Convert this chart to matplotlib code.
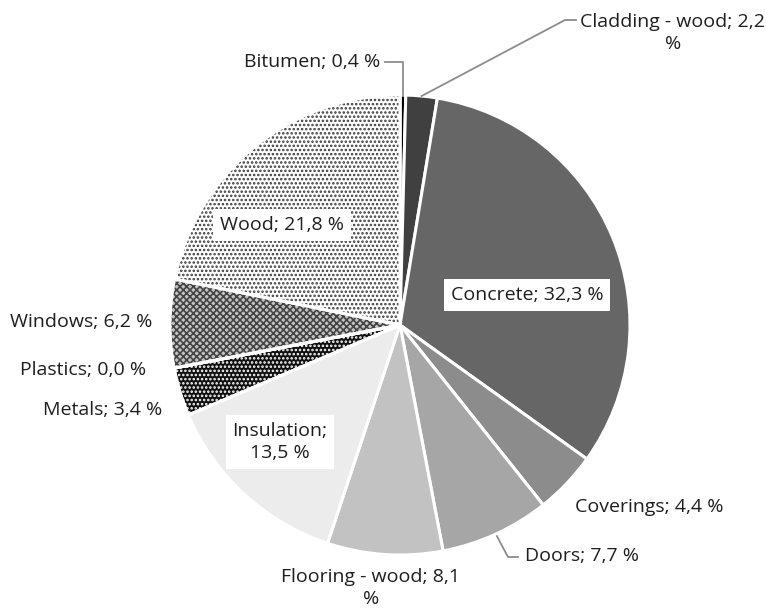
import numpy as np
import matplotlib
matplotlib.use("Agg")
import matplotlib.pyplot as plt
from matplotlib.patches import Wedge

plt.rcParams['font.family'] = ['Open Sans', 'DejaVu Sans']
plt.rcParams['hatch.linewidth'] = 1.2

materials = ["Bitumen", "Cladding - wood", "Concrete", "Coverings", "Doors",
             "Flooring - wood", "Insulation", "Metals", "Plastics", "Windows", "Wood"]
shares = [0.4, 2.2, 32.3, 4.4, 7.7, 8.1, 13.5, 3.4, 0.0, 6.2, 21.8]

fills = ["#000000", "#404040", "#666666", "#8c8c8c", "#a6a6a6",
         "#c2c2c2", "#ececec", "#111111", "#ffffff", "#c4c4c4", "#ffffff"]
# (hatch, hatch colour) for the patterned slices
patterns = {"Metals": ("....", "#ffffff"),
            "Windows": ("xxxxx", "#444444"),
            "Wood": ("....", "#3a3a3a")}

# pixel geometry of the figure
W, H = 766, 614
CX, CY, R = 400, 325, 230


def px(x, y):
    return (x - CX) / R, (CY - y) / R


def fmt(v):
    return ("%.1f" % v).replace(".", ",")


fig = plt.figure(figsize=(W / 100, H / 100), dpi=100)
ax = fig.add_axes([0, 0, 1, 1])

wedges, _ = ax.pie(shares, colors=fills, startangle=90, counterclock=False, radius=1,
                   wedgeprops=dict(edgecolor="white", linewidth=2.2))

for w, name in zip(wedges, materials):
    if name in patterns:
        hatch, hc = patterns[name]
        ax.add_patch(Wedge((0, 0), 1, w.theta1, w.theta2, facecolor="none",
                           edgecolor=hc, linewidth=0, hatch=hatch, zorder=2))
        ax.add_patch(Wedge((0, 0), 1, w.theta1, w.theta2, fill=False,
                           edgecolor="white", linewidth=2.2, zorder=3))

ax.set_xlim(px(0, 0)[0], px(W, 0)[0])
ax.set_ylim(px(0, H)[1], px(0, 0)[1])
ax.set_aspect("auto")
ax.axis("off")

txt = dict(fontsize=14, color="#1e1e1e")
box = dict(boxstyle="square,pad=0.35", facecolor="white", edgecolor="none")
lead = dict(color="#8c8c8c", linewidth=1.3, zorder=4)

# label positions (pixels) and alignment
labels = {
    "Bitumen":         ((380, 62), "right", None),
    "Cladding - wood": ((673, 33), "center", None),
    "Concrete":        ((527, 295), "center", box),
    "Coverings":       ((575, 507), "left", None),
    "Doors":           ((525, 556), "left", None),
    "Flooring - wood": ((371, 588), "center", None),
    "Insulation":      ((280, 442), "center", box),
    "Metals":          ((162, 410), "right", None),
    "Plastics":        ((146, 370), "right", None),
    "Windows":         ((152, 322), "right", None),
    "Wood":            ((282, 225), "center", box),
}

for name, v in zip(materials, shares):
    (lx, ly), ha, bb = labels[name]
    if name == "Insulation":
        s = "%s;\n%s %%" % (name, fmt(v))
    elif name in ("Cladding - wood", "Flooring - wood"):
        s = "%s; %s\n%%" % (name, fmt(v))
    else:
        s = "%s; %s %%" % (name, fmt(v))
    ax.text(*px(lx, ly), s, ha=ha, va="center", bbox=bb, linespacing=1.3, zorder=5, **txt)


def anchor(name, frac=0.5):
    w = wedges[materials.index(name)]
    a = np.deg2rad(w.theta1 + (w.theta2 - w.theta1) * frac)
    return np.cos(a), np.sin(a)


# leader lines
ax_, ay_ = anchor("Bitumen")
ax.plot([px(385, 0)[0], ax_, ax_], [px(0, 62)[1], px(0, 62)[1], ay_], **lead)
ax_, ay_ = anchor("Cladding - wood")
ax.plot([ax_, px(565, 0)[0], px(576, 0)[0]], [ay_, px(0, 20)[1], px(0, 20)[1]], **lead)
ax_, ay_ = anchor("Doors")
ax.plot([ax_ * 1.01, px(508, 0)[0], px(518, 0)[0]], [ay_ * 1.01, px(0, 557)[1], px(0, 557)[1]], **lead)

fig.savefig("out.png", dpi=100, facecolor="white")
